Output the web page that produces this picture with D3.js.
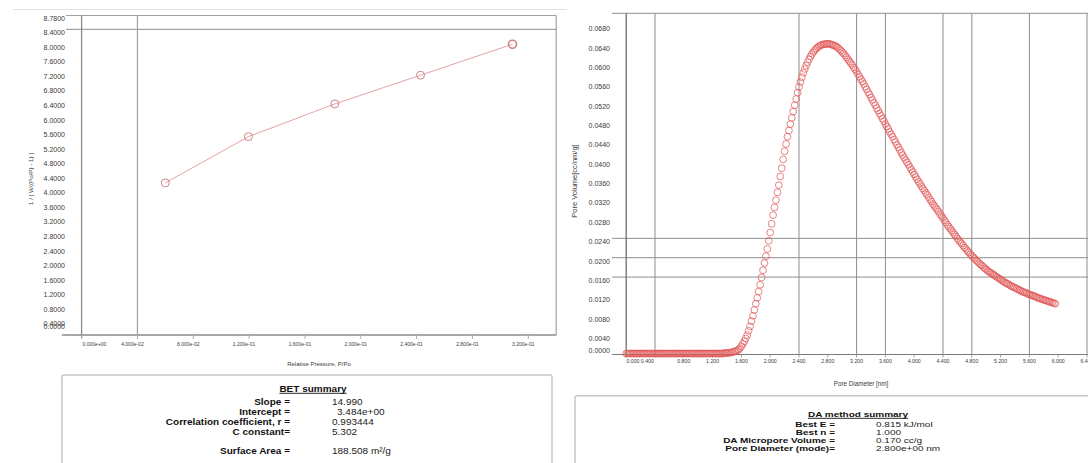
<!DOCTYPE html>
<html>
<head>
<meta charset="utf-8">
<script src="https://cdn.jsdelivr.net/npm/d3@7"></script>
<style>
  html, body { margin: 0; padding: 0; background: #fff; }
  svg { display: block; font-family: "Liberation Sans", Arial, sans-serif; }
</style>
</head>
<body>
<svg id="chart" width="1088" height="463"></svg>
<script>
// ---- BET plot ----
const betPressure = [0.060, 0.1195, 0.1814, 0.2428, 0.3087];
const betValue    = [4.18, 5.45, 6.35, 7.14, 7.99];
const betXTicks   = [0, 0.04, 0.08, 0.12, 0.16, 0.20, 0.24, 0.28, 0.32];
const betXLabels  = ["0.000e+00", "4.000e-02", "8.000e-02", "1.200e-01", "1.600e-01",
                     "2.000e-01", "2.400e-01", "2.800e-01", "3.200e-01"];
const betYTicks   = [0, 0.4, 0.8, 1.2, 1.6, 2.0, 2.4, 2.8, 3.2, 3.6, 4.0, 4.4, 4.8,
                     5.2, 5.6, 6.0, 6.4, 6.8, 7.2, 7.6, 8.0, 8.4, 8.78];
const betGridX    = [0.04];
const betGridY    = [8.4];

// ---- DA pore size distribution ----
const poreDiameter = [
  0.00, 0.02, 0.04, 0.06, 0.08, 0.10, 0.12, 0.14, 0.16, 0.18,
  0.20, 0.22, 0.24, 0.26, 0.28, 0.30, 0.32, 0.34, 0.36, 0.38,
  0.40, 0.42, 0.44, 0.46, 0.48, 0.50, 0.52, 0.54, 0.56, 0.58,
  0.60, 0.62, 0.64, 0.66, 0.68, 0.70, 0.72, 0.74, 0.76, 0.78,
  0.80, 0.82, 0.84, 0.86, 0.88, 0.90, 0.92, 0.94, 0.96, 0.98,
  1.00, 1.02, 1.04, 1.06, 1.08, 1.10, 1.12, 1.14, 1.16, 1.18,
  1.20, 1.22, 1.24, 1.26, 1.28, 1.30, 1.32, 1.34, 1.36, 1.38,
  1.40, 1.42, 1.44, 1.46, 1.48, 1.50, 1.52, 1.54, 1.56, 1.58,
  1.60, 1.62, 1.64, 1.66, 1.68, 1.70, 1.72, 1.74, 1.76, 1.78,
  1.80, 1.82, 1.84, 1.86, 1.88, 1.90, 1.92, 1.94, 1.96, 1.98,
  2.00, 2.02, 2.04, 2.06, 2.08, 2.10, 2.12, 2.14, 2.16, 2.18,
  2.20, 2.22, 2.24, 2.26, 2.28, 2.30, 2.32, 2.34, 2.36, 2.38,
  2.40, 2.42, 2.44, 2.46, 2.48, 2.50, 2.52, 2.54, 2.56, 2.58,
  2.60, 2.62, 2.64, 2.66, 2.68, 2.70, 2.72, 2.74, 2.76, 2.78,
  2.80, 2.82, 2.84, 2.86, 2.88, 2.90, 2.92, 2.94, 2.96, 2.98,
  3.00, 3.02, 3.04, 3.06, 3.08, 3.10, 3.12, 3.14, 3.16, 3.18,
  3.20, 3.22, 3.24, 3.26, 3.28, 3.30, 3.32, 3.34, 3.36, 3.38,
  3.40, 3.42, 3.44, 3.46, 3.48, 3.50, 3.52, 3.54, 3.56, 3.58,
  3.60, 3.62, 3.64, 3.66, 3.68, 3.70, 3.72, 3.74, 3.76, 3.78,
  3.80, 3.82, 3.84, 3.86, 3.88, 3.90, 3.92, 3.94, 3.96, 3.98,
  4.00, 4.02, 4.04, 4.06, 4.08, 4.10, 4.12, 4.14, 4.16, 4.18,
  4.20, 4.22, 4.24, 4.26, 4.28, 4.30, 4.32, 4.34, 4.36, 4.38,
  4.40, 4.42, 4.44, 4.46, 4.48, 4.50, 4.52, 4.54, 4.56, 4.58,
  4.60, 4.62, 4.64, 4.66, 4.68, 4.70, 4.72, 4.74, 4.76, 4.78,
  4.80, 4.82, 4.84, 4.86, 4.88, 4.90, 4.92, 4.94, 4.96, 4.98,
  5.00, 5.02, 5.04, 5.06, 5.08, 5.10, 5.12, 5.14, 5.16, 5.18,
  5.20, 5.22, 5.24, 5.26, 5.28, 5.30, 5.32, 5.34, 5.36, 5.38,
  5.40, 5.42, 5.44, 5.46, 5.48, 5.50, 5.52, 5.54, 5.56, 5.58,
  5.60, 5.62, 5.64, 5.66, 5.68, 5.70, 5.72, 5.74, 5.76, 5.78,
  5.80, 5.82, 5.84, 5.86, 5.88, 5.90, 5.92, 5.94, 5.96
];
const poreVolume = [
  0.0002, 0.0002, 0.0002, 0.0002, 0.0002, 0.0002, 0.0002, 0.0002, 0.0002, 0.0002,
  0.0002, 0.0002, 0.0002, 0.0002, 0.0002, 0.0002, 0.0002, 0.0002, 0.0002, 0.0002,
  0.0002, 0.0002, 0.0002, 0.0002, 0.0002, 0.0002, 0.0002, 0.0002, 0.0002, 0.0002,
  0.0002, 0.0002, 0.0002, 0.0002, 0.0002, 0.0002, 0.0002, 0.0002, 0.0002, 0.0002,
  0.0002, 0.0002, 0.0002, 0.0002, 0.0002, 0.0002, 0.0002, 0.0002, 0.0002, 0.0002,
  0.0002, 0.0002, 0.0002, 0.0002, 0.0002, 0.0002, 0.0002, 0.0002, 0.0002, 0.0002,
  0.0002, 0.0002, 0.0002, 0.0002, 0.0002, 0.0002, 0.0002, 0.0002, 0.0003, 0.0003,
  0.0003, 0.0003, 0.0004, 0.0004, 0.0005, 0.0006, 0.0007, 0.0008, 0.0010, 0.0013,
  0.0017, 0.0022, 0.0027, 0.0033, 0.0040, 0.0049, 0.0058, 0.0069, 0.0080, 0.0092,
  0.0105, 0.0117, 0.0130, 0.0144, 0.0159, 0.0174, 0.0189, 0.0203, 0.0218, 0.0235,
  0.0252, 0.0270, 0.0288, 0.0304, 0.0319, 0.0335, 0.0350, 0.0368, 0.0385, 0.0403,
  0.0420, 0.0435, 0.0450, 0.0463, 0.0476, 0.0489, 0.0502, 0.0515, 0.0528, 0.0541,
  0.0553, 0.0563, 0.0573, 0.0582, 0.0590, 0.0597, 0.0604, 0.0610, 0.0616, 0.0621,
  0.0625, 0.0629, 0.0632, 0.0635, 0.0637, 0.0639, 0.0640, 0.0641, 0.0641, 0.0642,
  0.0642, 0.0642, 0.0641, 0.0640, 0.0639, 0.0638, 0.0636, 0.0634, 0.0631, 0.0628,
  0.0625, 0.0622, 0.0618, 0.0614, 0.0610, 0.0606, 0.0602, 0.0598, 0.0593, 0.0589,
  0.0584, 0.0579, 0.0574, 0.0569, 0.0564, 0.0559, 0.0553, 0.0548, 0.0542, 0.0537,
  0.0531, 0.0526, 0.0520, 0.0515, 0.0509, 0.0504, 0.0498, 0.0493, 0.0487, 0.0482,
  0.0476, 0.0471, 0.0466, 0.0460, 0.0455, 0.0450, 0.0444, 0.0439, 0.0433, 0.0428,
  0.0423, 0.0417, 0.0412, 0.0407, 0.0402, 0.0397, 0.0392, 0.0387, 0.0382, 0.0377,
  0.0372, 0.0367, 0.0362, 0.0357, 0.0353, 0.0348, 0.0343, 0.0339, 0.0334, 0.0330,
  0.0325, 0.0320, 0.0316, 0.0311, 0.0307, 0.0303, 0.0299, 0.0295, 0.0290, 0.0286,
  0.0282, 0.0277, 0.0273, 0.0268, 0.0264, 0.0260, 0.0256, 0.0252, 0.0248, 0.0244,
  0.0240, 0.0236, 0.0232, 0.0229, 0.0225, 0.0221, 0.0218, 0.0214, 0.0211, 0.0207,
  0.0204, 0.0201, 0.0198, 0.0195, 0.0192, 0.0189, 0.0186, 0.0184, 0.0181, 0.0178,
  0.0176, 0.0173, 0.0171, 0.0169, 0.0167, 0.0165, 0.0163, 0.0161, 0.0159, 0.0157,
  0.0155, 0.0153, 0.0151, 0.0149, 0.0147, 0.0146, 0.0144, 0.0142, 0.0141, 0.0139,
  0.0138, 0.0136, 0.0135, 0.0133, 0.0132, 0.0130, 0.0129, 0.0128, 0.0127, 0.0125,
  0.0124, 0.0123, 0.0122, 0.0121, 0.0120, 0.0118, 0.0117, 0.0116, 0.0115, 0.0114,
  0.0113, 0.0112, 0.0111, 0.0110, 0.0109, 0.0108, 0.0107, 0.0106, 0.0105
];
const daXTicks = [0, 0.4, 0.8, 1.2, 1.6, 2.0, 2.4, 2.8, 3.2, 3.6, 4.0, 4.4, 4.8, 5.2, 5.6, 6.0, 6.4];
const daYTicks = [0, 0.004, 0.008, 0.012, 0.016, 0.020, 0.024, 0.028, 0.032, 0.036, 0.040,
                  0.044, 0.048, 0.052, 0.056, 0.060, 0.064, 0.068];
const daGridX  = [0.4, 2.4, 3.2, 3.6, 4.4, 4.8, 5.6, 6.4];
const daGridY  = [0.016, 0.020, 0.024];

// ---- summaries ----
const betLabels  = ["Slope =", "Intercept =", "Correlation coefficient, r =", "C constant=", "Surface Area ="];
const betResults = ["14.990", "3.484e+00", "0.993444", "5.302", "188.508 m\u00B2/g"];
const daLabels   = ["Best E =", "Best n =", "DA Micropore Volume =", "Pore Diameter (mode)="];
const daResults  = ["0.815 kJ/mol", "1.000", "0.170 cc/g", "2.800e+00 nm"];

const svg = d3.select("#chart");
const textColor = "#3a3a3a";

// faint window rule across the top of the left panel
svg.append("line").attr("x1", 13).attr("x2", 567).attr("y1", 9.5).attr("y2", 9.5)
  .attr("stroke", "#e2e2e2").attr("stroke-width", 1);

// ================= BET plot =================
{
  const x = d3.scaleLinear().domain([0, 0.34]).range([81.6, 556.2]);
  const y = d3.scaleLinear().domain([0, 8.78]).range([335, 15.5]);
  const g = svg.append("g");
  const frame = "#a2a2a2";

  g.append("line").attr("x1", 66).attr("x2", x.range()[1]).attr("y1", y(8.78)).attr("y2", y(8.78))
    .attr("stroke", frame).attr("stroke-width", 1.2);
  g.append("line").attr("x1", x.range()[1]).attr("x2", x.range()[1]).attr("y1", y(8.78)).attr("y2", y(0))
    .attr("stroke", frame).attr("stroke-width", 1.2);
  g.selectAll(".gy").data(betGridY).join("line")
    .attr("x1", 66).attr("x2", x.range()[1]).attr("y1", d => y(d)).attr("y2", d => y(d))
    .attr("stroke", frame).attr("stroke-width", 1.2);
  g.selectAll(".gx").data(betGridX).join("line")
    .attr("x1", d => x(d)).attr("x2", d => x(d)).attr("y1", y(8.78)).attr("y2", y(0))
    .attr("stroke", frame).attr("stroke-width", 1.2);
  g.append("line").attr("x1", 62).attr("x2", x.range()[1]).attr("y1", y(0)).attr("y2", y(0))
    .attr("stroke", "#8a8a8a").attr("stroke-width", 1.3);
  g.append("line").attr("x1", x(0)).attr("x2", x(0)).attr("y1", y(8.78)).attr("y2", y(0) + 3)
    .attr("stroke", "#8a8a8a").attr("stroke-width", 1.3);
  g.selectAll(".tx").data(betXTicks).join("line")
    .attr("x1", d => x(d)).attr("x2", d => x(d)).attr("y1", y(0)).attr("y2", y(0) + 4)
    .attr("stroke", "#b0b0b0").attr("stroke-width", 1);

  const fy = d3.format(".4f");
  g.selectAll(".ly").data(betYTicks).join("text")
    .attr("x", 65).attr("y", d => d === 0 ? y(0) - 8 : y(d) + 4)
    .attr("text-anchor", "end").attr("dominant-baseline", "middle")
    .attr("font-size", 7).attr("fill", textColor).text(d => fy(d));
  g.selectAll(".lx").data(betXTicks).join("text")
    .attr("x", (d, i) => i === 0 ? x(d) + 1 : x(d) - 5)
    .attr("y", y(0) + 9.5)
    .attr("text-anchor", (d, i) => i === 0 ? "start" : "middle").attr("dominant-baseline", "middle")
    .attr("font-size", 5).attr("fill", textColor).text((d, i) => betXLabels[i]);

  g.append("text").attr("x", 319).attr("y", 364).attr("text-anchor", "middle")
    .attr("dominant-baseline", "middle").attr("font-size", 6).attr("fill", textColor)
    .text("Relative Pressure, P/Po");
  g.append("text").attr("transform", "translate(31,179) rotate(-90)").attr("text-anchor", "middle")
    .attr("dominant-baseline", "middle").attr("font-size", 6.2).attr("fill", textColor)
    .text("1 / [ W((Po/P) - 1) ]");

  const pts = betPressure.map((p, i) => [p, betValue[i]]);
  g.append("path").datum(pts)
    .attr("d", d3.line().x(d => x(d[0])).y(d => y(d[1])))
    .attr("fill", "none").attr("stroke", "#e6a3a3").attr("stroke-width", 1);
  g.selectAll(".pt").data(pts).join("circle")
    .attr("cx", d => x(d[0])).attr("cy", d => y(d[1])).attr("r", 4)
    .attr("fill", "none").attr("stroke", "#cf8585")
    .attr("stroke-width", (d, i) => i === pts.length - 1 ? 1.6 : 1);
}

// ================= DA plot =================
{
  const x = d3.scaleLinear().domain([0, 6.4]).range([626.2, 1087]);
  const y = d3.scaleLinear().domain([0, 0.0705]).range([354.5, 13.3]);
  const g = svg.append("g");
  const grid = "#8e8e8e";

  g.append("line").attr("x1", 612).attr("x2", 1088).attr("y1", y(0.0705)).attr("y2", y(0.0705))
    .attr("stroke", grid).attr("stroke-width", 1);
  g.selectAll(".gy").data(daGridY).join("line")
    .attr("x1", 612).attr("x2", 1088).attr("y1", d => y(d)).attr("y2", d => y(d))
    .attr("stroke", grid).attr("stroke-width", 1);
  g.selectAll(".gx").data(daGridX).join("line")
    .attr("x1", d => x(d)).attr("x2", d => x(d)).attr("y1", y(0.0705)).attr("y2", y(0))
    .attr("stroke", grid).attr("stroke-width", 1);
  g.append("line").attr("x1", 612).attr("x2", 1088).attr("y1", y(0)).attr("y2", y(0))
    .attr("stroke", "#7a7a7a").attr("stroke-width", 1.2);
  g.append("line").attr("x1", x(0)).attr("x2", x(0)).attr("y1", y(0.0705)).attr("y2", y(0) + 2)
    .attr("stroke", "#6e6e6e").attr("stroke-width", 1.3);
  g.selectAll(".tx").data(daXTicks).join("line")
    .attr("x1", d => x(d)).attr("x2", d => x(d)).attr("y1", y(0)).attr("y2", y(0) + 3)
    .attr("stroke", "#a0a0a0").attr("stroke-width", 1);

  const fy = d3.format(".4f");
  g.selectAll(".ly").data(daYTicks).join("text")
    .attr("x", 610).attr("y", d => d === 0 ? y(0) - 3 : y(d) + 4)
    .attr("text-anchor", "end").attr("dominant-baseline", "middle")
    .attr("font-size", 7).attr("fill", textColor).text(d => fy(d));
  const fx = d3.format(".3f");
  g.selectAll(".lx").data(daXTicks).join("text")
    .attr("x", (d, i) => i === 0 ? x(d) + 0.3 : i === 1 ? x(d) - 1.2 : x(d))
    .attr("y", y(0) + 7.5)
    .attr("text-anchor", (d, i) => i === 0 ? "start" : i === 1 ? "end" : "middle")
    .attr("dominant-baseline", "middle")
    .attr("font-size", 5.2).attr("fill", textColor).text(d => fx(d));

  g.append("text").attr("x", 861).attr("y", 384).attr("text-anchor", "middle")
    .attr("dominant-baseline", "middle").attr("font-size", 6.3).attr("fill", textColor)
    .text("Pore Diameter [nm]");
  g.append("text").attr("transform", "translate(575,181) rotate(-90)").attr("text-anchor", "middle")
    .attr("dominant-baseline", "middle").attr("font-size", 7.5).attr("fill", textColor)
    .text("Pore Volume[cc/nm/g]");

  const pts = poreDiameter.map((d, i) => [d, poreVolume[i]]);
  g.selectAll(".pt").data(pts).join("circle")
    .attr("cx", d => x(d[0])).attr("cy", d => y(d[1])).attr("r", 3.4)
    .attr("fill", "none").attr("stroke", "#e05454").attr("stroke-width", 0.9)
    .attr("stroke-opacity", 0.8);
}

// ================= summary boxes =================
function summary(box, title, labels, values, opt) {
  const g = svg.append("g");
  g.append("rect").attr("x", box.x).attr("y", box.y).attr("width", box.w).attr("height", box.h)
    .attr("rx", 2).attr("fill", "#fff").attr("stroke", "#c6c6c6").attr("stroke-width", 1.5);

  const t = g.append("text")
    .attr("transform", `translate(${opt.titleX},${opt.titleY}) scale(1,${opt.sy})`)
    .attr("text-anchor", "middle").attr("font-size", 10).attr("font-weight", "bold")
    .attr("fill", "#111").text(title);
  const w = t.node().getComputedTextLength();
  g.append("line").attr("x1", opt.titleX - w / 2).attr("x2", opt.titleX + w / 2)
    .attr("y1", opt.titleY + 1.8).attr("y2", opt.titleY + 1.8)
    .attr("stroke", "#111").attr("stroke-width", 0.9);

  labels.forEach((lab, i) => {
    g.append("text")
      .attr("transform", `translate(${opt.labelX},${opt.rows[i]}) scale(1,${opt.sy})`)
      .attr("text-anchor", "end").attr("font-size", 10).attr("font-weight", "bold")
      .attr("fill", "#111").text(lab);
    g.append("text")
      .attr("transform", `translate(${opt.valueX + (opt.dx[i] || 0)},${opt.rows[i]}) scale(1,${opt.sy})`)
      .attr("text-anchor", "start").attr("font-size", 10)
      .attr("fill", "#222").text(values[i]);
  });
}

summary({ x: 62, y: 375, w: 490, h: 120 }, "BET summary", betLabels, betResults, {
  titleX: 313, titleY: 391.5, labelX: 290, valueX: 332, sy: 0.95,
  rows: [404.5, 415, 425, 434.5, 453.5], dx: [0, 5, 0, 0, 0]
});
summary({ x: 575, y: 395.7, w: 540, h: 120 }, "DA method summary", daLabels, daResults, {
  titleX: 858, titleY: 416.5, labelX: 835, valueX: 876, sy: 0.8,
  rows: [426.6, 435, 442.6, 451], dx: [0, 0, 0, 0]
});
</script>
</body>
</html>
